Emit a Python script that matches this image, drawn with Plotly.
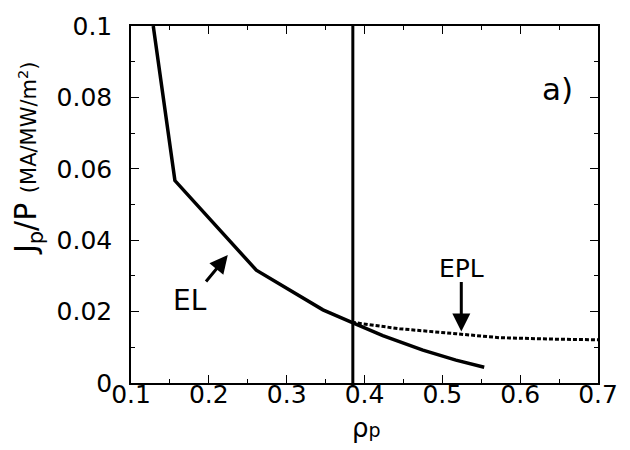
import plotly.graph_objects as go

# EL curve (solid)
el_x = [0.1286, 0.1564, 0.261, 0.3466, 0.3837, 0.4235, 0.475, 0.5175, 0.5538]
el_y = [0.1, 0.0567, 0.0316, 0.0205, 0.0170, 0.0133, 0.0092, 0.0064, 0.0044]
# EPL curve (dotted)
epl_x = [0.3837, 0.445, 0.5175, 0.573, 0.64, 0.7]
epl_y = [0.0170, 0.0152, 0.0138, 0.0127, 0.0123, 0.0121]
# vertical marker
rho_mark = 0.385

x_ticks = [0.1, 0.2, 0.3, 0.4, 0.5, 0.6, 0.7]
x_ticktext = ["0.1", "0.2", "0.3", "0.4", "0.5", "0.6", "0.7"]
y_ticks = [0, 0.02, 0.04, 0.06, 0.08, 0.1]
y_ticktext = ["0", "0.02", "0.04", "0.06", "0.08", "0.1"]

FONT = "DejaVu Sans"

fig = go.Figure()
fig.add_trace(go.Scatter(x=el_x, y=el_y, mode="lines",
                         line=dict(color="black", width=3.5), showlegend=False))
fig.add_trace(go.Scatter(x=epl_x, y=epl_y, mode="lines",
                         line=dict(color="black", width=3, dash="4px,2px"), showlegend=False))

fig.add_shape(type="line", xref="x", yref="paper", x0=rho_mark, x1=rho_mark,
              y0=-0.012, y1=1.0, line=dict(color="black", width=3))

axis_common = dict(showline=True, linecolor="black", linewidth=1.5, mirror="allticks",
                   ticks="inside", ticklen=8, tickwidth=1.2, tickcolor="black",
                   showgrid=False, zeroline=False,
                   tickfont=dict(family=FONT, size=25, color="black"))

fig.update_xaxes(range=[0.1, 0.7], tickvals=x_ticks, ticktext=x_ticktext,
                 minor=dict(ticks="inside", ticklen=4, dtick=0.05, tickcolor="black", tickwidth=1.2),
                 ticklabelstandoff=-12, **axis_common)
fig.update_yaxes(range=[0, 0.1], tickvals=y_ticks, ticktext=y_ticktext,
                 minor=dict(ticks="inside", ticklen=4, dtick=0.01, tickcolor="black", tickwidth=1.2),
                 ticklabelstandoff=12, **axis_common)

def px(xp):
    return (xp - 131) / 468

def py(yp):
    return (383 - yp) / 360

ann = [("a)", 558, 87, 31), ("EL", 190, 300, 28), ("EPL", 462, 268, 25)]
for t, xx, yy, s in ann:
    fig.add_annotation(text=t, xref="paper", yref="paper", x=px(xx), y=py(yy),
                       xanchor="center", yanchor="middle", showarrow=False,
                       font=dict(family=FONT, color="black", size=s))

# arrows (tail -> head in pixel coords)
def arrow(x0, y0, x1, y1):
    fig.add_annotation(xref="paper", yref="paper", axref="pixel", ayref="pixel",
                       x=px(x1), y=py(y1), ax=x0 - x1, ay=y0 - y1,
                       text="", showarrow=True, arrowhead=2, arrowsize=1.2,
                       arrowwidth=3, arrowcolor="black")

arrow(205, 282, 228, 254)
arrow(462, 280, 462, 331)

# axis titles
fig.add_annotation(text="J<sub>p</sub>/P <span style='font-size:21px'>(MA/MW/m<sup>2</sup>)</span>",
                   xref="paper", yref="paper", x=px(28), y=py(156),
                   textangle=-90, showarrow=False, xanchor="center", yanchor="middle",
                   font=dict(family=FONT, size=30, color="black"))
fig.add_annotation(text="ρ<span style='font-size:19px'>p</span>", xref="paper", yref="paper",
                   x=px(367), y=py(428),
                   showarrow=False, xanchor="center", yanchor="middle",
                   font=dict(family=FONT, size=26, color="black"))

fig.update_layout(width=630, height=450, margin=dict(l=131, r=31, t=23, b=67),
                  plot_bgcolor="white", paper_bgcolor="white",
                  font=dict(family=FONT, color="black"))

fig.write_html("out.html")
